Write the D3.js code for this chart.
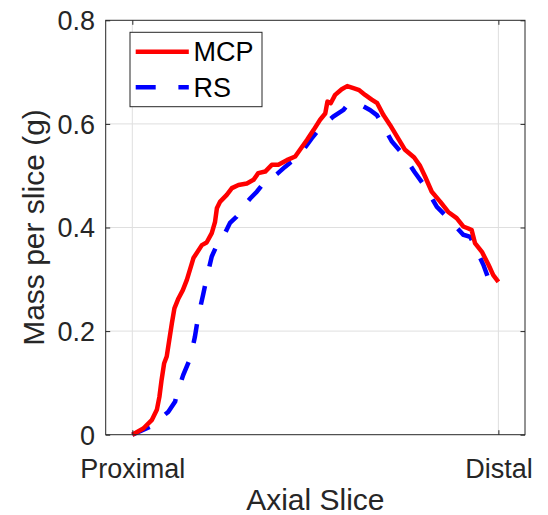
<!DOCTYPE html>
<html>
<head>
<meta charset="utf-8">
<script src="https://cdn.jsdelivr.net/npm/d3@7"></script>
<style>
  body { margin: 0; background: #fff; }
  text { font-family: "Liberation Sans", Arial, sans-serif; }
</style>
</head>
<body>
<svg width="548" height="515"></svg>
<script>
// axial position along the bone: 0 = proximal, 100 = distal
let mcpPos = [0, 3, 5.3, 6.7, 7.4, 8, 8.7, 9.4, 10.1, 10.8, 11.5, 12.6, 13.8, 14.9, 16.7, 19, 20.3, 21.7, 22.6, 23.1, 24, 25.8, 27.2, 29, 31.3, 33.1, 34.4, 36.3, 38.1, 39.9, 42.2, 44.5, 45.8, 47.7, 49.5, 51.3, 52.7, 53.3, 54.2, 55.4, 57.2, 58.7, 60.4, 62, 63.6, 65.4, 66.9, 68.6, 70.4, 72.2, 74.5, 77, 78.6, 80, 81.8, 84.1, 86.3, 88.6, 90.4, 91.8, 92.7, 93.6, 95.5, 97.3, 98.6, 100];
let mcpMass = [0, 0.012, 0.028, 0.048, 0.073, 0.106, 0.138, 0.151, 0.183, 0.215, 0.244, 0.263, 0.279, 0.299, 0.341, 0.366, 0.371, 0.389, 0.411, 0.437, 0.45, 0.463, 0.476, 0.482, 0.485, 0.492, 0.505, 0.508, 0.521, 0.521, 0.53, 0.537, 0.55, 0.569, 0.588, 0.608, 0.62, 0.643, 0.64, 0.656, 0.667, 0.673, 0.669, 0.665, 0.656, 0.647, 0.64, 0.617, 0.598, 0.577, 0.55, 0.535, 0.519, 0.498, 0.469, 0.45, 0.43, 0.418, 0.402, 0.398, 0.395, 0.37, 0.353, 0.328, 0.308, 0.295];

let rsPos = [0, 4.8, 9.8, 11.7, 12.1, 13.9, 15.8, 17.1, 18, 19.4, 20.3, 21.7, 23.1, 24.4, 26.7, 28.5, 29.9, 32.2, 34, 35.8, 37.2, 39.5, 41.7, 43.1, 44.9, 45.4, 49, 51.3, 54.9, 57.7, 58.7, 61.5, 64.9, 66.8, 67.9, 70.9, 74.1, 77, 80, 83.2, 86.8, 90.4, 92.3, 93.6, 95.9, 97.7, 100];
let rsMass = [0, 0.015, 0.044, 0.064, 0.077, 0.115, 0.147, 0.189, 0.228, 0.272, 0.302, 0.344, 0.366, 0.376, 0.409, 0.421, 0.437, 0.456, 0.469, 0.485, 0.49, 0.503, 0.517, 0.525, 0.534, 0.537, 0.572, 0.592, 0.614, 0.627, 0.636, 0.64, 0.627, 0.617, 0.604, 0.566, 0.54, 0.508, 0.479, 0.44, 0.414, 0.386, 0.382, 0.363, 0.328, 0.293, 0.28];

let xTicks = [0, 100];
let xTickLabels = ["Proximal", "Distal"];
let yTicks = [0, 0.2, 0.4, 0.6, 0.8];
let seriesNames = ["MCP", "RS"];
let colors = ["#ff0000", "#0000ff"];

let svg = d3.select("svg");
let pLeft = 105.7, pRight = 525, pTop = 20.3, pBottom = 434.7;
let ink = "#262626";

let x = d3.scaleLinear().domain([-7.27, 107.27]).range([pLeft, pRight]);
let y = d3.scaleLinear().domain([0, 0.8]).range([pBottom, pTop]);

// grid
let grid = svg.append("g").attr("stroke", "#dfdfdf").attr("stroke-width", 1);
grid.selectAll("line.gy").data(yTicks.slice(1, -1)).enter().append("line")
  .attr("x1", pLeft).attr("x2", pRight)
  .attr("y1", d => y(d)).attr("y2", d => y(d));
grid.selectAll("line.gx").data(xTicks).enter().append("line")
  .attr("y1", pTop).attr("y2", pBottom)
  .attr("x1", d => x(d)).attr("x2", d => x(d));

// curves
let line = d3.line().x(d => x(d[0])).y(d => y(d[1]));
svg.append("path")
  .datum(d3.zip(rsPos, rsMass))
  .attr("d", line)
  .attr("fill", "none").attr("stroke", colors[1]).attr("stroke-width", 4.5)
  .attr("stroke-dasharray", "19,20");
svg.append("path")
  .datum(d3.zip(mcpPos, mcpMass))
  .attr("d", line)
  .attr("fill", "none").attr("stroke", colors[0]).attr("stroke-width", 4.5)
  .attr("stroke-linejoin", "round");

// axes (box with inward ticks)
let tl = 4.5;
let axL = svg.append("g").attr("transform", "translate(" + pLeft + ",0)")
  .call(d3.axisLeft(y).tickValues(yTicks).tickSize(-tl).tickPadding(10.7).tickFormat(d => d === 0 ? "0" : d3.format(".1f")(d)));
let axR = svg.append("g").attr("transform", "translate(" + pRight + ",0)")
  .call(d3.axisRight(y).tickValues(yTicks).tickSize(-tl).tickFormat(""));
let axB = svg.append("g").attr("transform", "translate(0," + pBottom + ")")
  .call(d3.axisBottom(x).tickValues(xTicks).tickSize(-tl).tickPadding(24).tickFormat((d, i) => xTickLabels[i]));
let axT = svg.append("g").attr("transform", "translate(0," + pTop + ")")
  .call(d3.axisTop(x).tickValues(xTicks).tickSize(-tl).tickFormat(""));

[axL, axR, axB, axT].forEach(a => {
  a.select(".domain").remove();
  a.selectAll(".tick line").attr("stroke", ink);
  a.selectAll("text").attr("fill", ink).style("font-size", "27px")
    .style("font-family", "'Liberation Sans', Arial, sans-serif");
});
svg.append("rect").attr("x", pLeft).attr("y", pTop)
  .attr("width", pRight - pLeft).attr("height", pBottom - pTop)
  .attr("fill", "none").attr("stroke", ink).attr("stroke-width", 1);
axL.selectAll("text").attr("dy", "0.35em");
axB.selectAll("text").attr("dy", "0.71em");

// axis labels
svg.append("text")
  .attr("x", (pLeft + pRight) / 2).attr("y", 510)
  .attr("text-anchor", "middle").attr("fill", ink)
  .style("font-size", "30px").text("Axial Slice");
svg.append("text")
  .attr("transform", "translate(44," + (pTop + pBottom) / 2 + ") rotate(-90)")
  .attr("text-anchor", "middle").attr("fill", ink)
  .style("font-size", "30px").text("Mass per slice (g)");

// legend
let lg = svg.append("g");
lg.append("rect").attr("x", 130).attr("y", 32.3).attr("width", 132).attr("height", 74.4)
  .attr("fill", "#fff").attr("stroke", ink).attr("stroke-width", 1);
let rows = [51.7, 87.3];
seriesNames.forEach((name, i) => {
  lg.append("line").attr("x1", 135.7).attr("x2", 188.8)
    .attr("y1", rows[i]).attr("y2", rows[i])
    .attr("stroke", colors[i]).attr("stroke-width", 4.5)
    .attr("stroke-dasharray", i === 1 ? "20,22.7" : null);
  lg.append("text").attr("x", 193.4).attr("y", rows[i]).attr("dy", "0.36em")
    .attr("fill", "#000").style("font-size", "27px").text(name);
});
</script>
</body>
</html>
